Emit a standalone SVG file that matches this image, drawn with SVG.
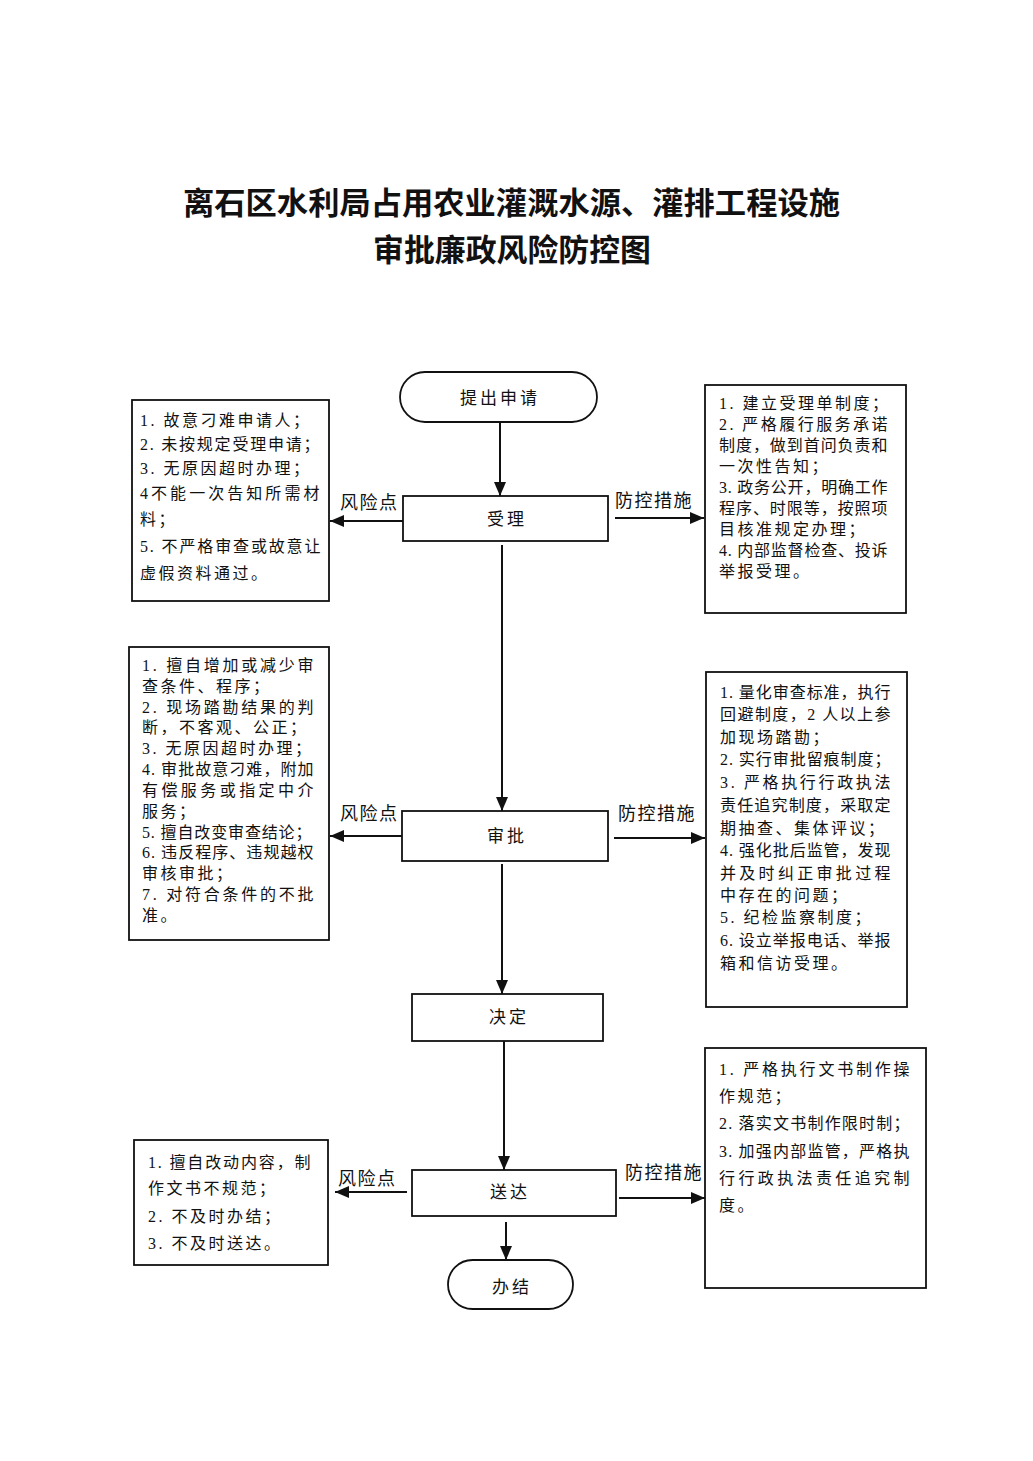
<svg xmlns="http://www.w3.org/2000/svg" width="1033" height="1461" viewBox="0 0 1033 1461">
<style>
text{font-family:"Liberation Serif","Noto Sans CJK SC",serif;fill:#111;}
.title{font-size:31px;font-weight:bold;text-anchor:middle;}
.box{fill:#fff;stroke:#111;stroke-width:1.8;}
.lbl{font-size:17px;text-anchor:middle;letter-spacing:3px;}
.side{font-size:18px;letter-spacing:1.5px;}
.t{font-size:16px;letter-spacing:2.5px;}
.conn{stroke:#111;stroke-width:2;fill:none;}
</style>
<defs>
<marker id="ah" markerUnits="userSpaceOnUse" markerWidth="14" markerHeight="12" viewBox="0 0 14 12" refX="14" refY="6" orient="auto">
<path d="M0,0 L14,6 L0,12 Z" fill="#111"/>
</marker>
</defs>
<rect width="1033" height="1461" fill="#fff"/>
<g id="title">
<text class="title" x="511.5" y="214" textLength="657" lengthAdjust="spacingAndGlyphs">离石区水利局占用农业灌溉水源、灌排工程设施</text>
<text class="title" x="512" y="261" textLength="278" lengthAdjust="spacingAndGlyphs">审批廉政风险防控图</text>
</g>
<g id="connectors">
<line class="conn" x1="500" y1="422" x2="500" y2="496" marker-end="url(#ah)"/>
<line class="conn" x1="502" y1="545" x2="502" y2="811" marker-end="url(#ah)"/>
<line class="conn" x1="502" y1="864" x2="502" y2="994" marker-end="url(#ah)"/>
<line class="conn" x1="504" y1="1041" x2="504" y2="1170" marker-end="url(#ah)"/>
<line class="conn" x1="506" y1="1222" x2="506" y2="1260" marker-end="url(#ah)"/>
<line class="conn" x1="403" y1="521" x2="330" y2="521" marker-end="url(#ah)"/>
<line class="conn" x1="615" y1="518" x2="704" y2="518" marker-end="url(#ah)"/>
<line class="conn" x1="402" y1="836" x2="330" y2="836" marker-end="url(#ah)"/>
<line class="conn" x1="614" y1="838" x2="705" y2="838" marker-end="url(#ah)"/>
<line class="conn" x1="407" y1="1192" x2="335" y2="1192" marker-end="url(#ah)"/>
<line class="conn" x1="619" y1="1198" x2="705" y2="1198" marker-end="url(#ah)"/>
<text class="side" x="340" y="509">风险点</text>
<text class="side" x="615" y="507">防控措施</text>
<text class="side" x="340" y="820">风险点</text>
<text class="side" x="618" y="820">防控措施</text>
<text class="side" x="338" y="1185">风险点</text>
<text class="side" x="625" y="1179">防控措施</text>
</g>
<g id="n_start">
<rect class="box" x="400" y="372" width="197" height="50" rx="25"/>
<text class="lbl" x="500" y="404">提出申请</text>
</g>
<g id="n_accept">
<rect class="box" x="403" y="496" width="205" height="45"/>
<text class="lbl" x="507" y="525">受理</text>
</g>
<g id="n_review">
<rect class="box" x="402" y="811" width="206" height="50"/>
<text class="lbl" x="507" y="842">审批</text>
</g>
<g id="n_decide">
<rect class="box" x="412" y="994" width="191" height="47"/>
<text class="lbl" x="509" y="1023">决定</text>
</g>
<g id="n_deliver">
<rect class="box" x="412" y="1170" width="204" height="46"/>
<text class="lbl" x="510" y="1198">送达</text>
</g>
<g id="n_end">
<rect class="box" x="448" y="1260" width="125" height="49" rx="24.5"/>
<text class="lbl" x="512" y="1293">办结</text>
</g>
<g id="risk1">
<rect class="box" x="132" y="400" width="197" height="201"/>
<text class="t" x="140" y="426">1. 故意刁难申请人；</text>
<text class="t" x="140" y="450" textLength="182">2. 未按规定受理申请；</text>
<text class="t" x="140" y="474">3. 无原因超时办理；</text>
<text class="t" x="140" y="499" textLength="182">4不能一次告知所需材</text>
<text class="t" x="140" y="525">料；</text>
<text class="t" x="140" y="552" textLength="183">5. 不严格审查或故意让</text>
<text class="t" x="140" y="579">虚假资料通过。</text>
</g>
<g id="measure1">
<rect class="box" x="705" y="385" width="201" height="228"/>
<text class="t" x="719" y="409">1. 建立受理单制度；</text>
<text class="t" x="719" y="430" textLength="171">2. 严格履行服务承诺</text>
<text class="t" x="719" y="451" textLength="171">制度，做到首问负责和</text>
<text class="t" x="719" y="472">一次性告知；</text>
<text class="t" x="719" y="493" textLength="171">3. 政务公开，明确工作</text>
<text class="t" x="719" y="514" textLength="171">程序、时限等，按照项</text>
<text class="t" x="719" y="535">目核准规定办理；</text>
<text class="t" x="719" y="556" textLength="171">4. 内部监督检查、投诉</text>
<text class="t" x="719" y="577">举报受理。</text>
</g>
<g id="risk2">
<rect class="box" x="129" y="647" width="200" height="293"/>
<text class="t" x="142" y="671" textLength="174">1. 擅自增加或减少审</text>
<text class="t" x="142" y="692">查条件、程序；</text>
<text class="t" x="142" y="713" textLength="174">2. 现场踏勘结果的判</text>
<text class="t" x="142" y="733">断，不客观、公正；</text>
<text class="t" x="142" y="754">3. 无原因超时办理；</text>
<text class="t" x="142" y="775" textLength="174">4. 审批故意刁难，附加</text>
<text class="t" x="142" y="796" textLength="174">有偿服务或指定中介</text>
<text class="t" x="142" y="817">服务；</text>
<text class="t" x="142" y="838" textLength="172">5. 擅自改变审查结论；</text>
<text class="t" x="142" y="858" textLength="174">6. 违反程序、违规越权</text>
<text class="t" x="142" y="879">审核审批；</text>
<text class="t" x="142" y="900" textLength="174">7. 对符合条件的不批</text>
<text class="t" x="142" y="921">准。</text>
</g>
<g id="measure2">
<rect class="box" x="706" y="672" width="201" height="335"/>
<text class="t" x="720" y="698" textLength="173">1. 量化审查标准，执行</text>
<text class="t" x="720" y="720" textLength="173">回避制度，2 人以上参</text>
<text class="t" x="720" y="743">加现场踏勘；</text>
<text class="t" x="720" y="765" textLength="173">2. 实行审批留痕制度；</text>
<text class="t" x="720" y="788" textLength="173">3. 严格执行行政执法</text>
<text class="t" x="720" y="811" textLength="173">责任追究制度，采取定</text>
<text class="t" x="720" y="834">期抽查、集体评议；</text>
<text class="t" x="720" y="856" textLength="173">4. 强化批后监管，发现</text>
<text class="t" x="720" y="879" textLength="173">并及时纠正审批过程</text>
<text class="t" x="720" y="901">中存在的问题；</text>
<text class="t" x="720" y="923">5. 纪检监察制度；</text>
<text class="t" x="720" y="946" textLength="173">6. 设立举报电话、举报</text>
<text class="t" x="720" y="969">箱和信访受理。</text>
</g>
<g id="risk3">
<rect class="box" x="134" y="1140" width="194" height="125"/>
<text class="t" x="148" y="1168" textLength="165">1. 擅自改动内容，制</text>
<text class="t" x="148" y="1194">作文书不规范；</text>
<text class="t" x="148" y="1222">2. 不及时办结；</text>
<text class="t" x="148" y="1249">3. 不及时送达。</text>
</g>
<g id="measure3">
<rect class="box" x="705" y="1048" width="221" height="240"/>
<text class="t" x="719" y="1075" textLength="193">1. 严格执行文书制作操</text>
<text class="t" x="719" y="1102">作规范；</text>
<text class="t" x="719" y="1129" textLength="193">2. 落实文书制作限时制；</text>
<text class="t" x="719" y="1157" textLength="193">3. 加强内部监管，严格执</text>
<text class="t" x="719" y="1184" textLength="193">行行政执法责任追究制</text>
<text class="t" x="719" y="1211">度。</text>
</g>
</svg>
